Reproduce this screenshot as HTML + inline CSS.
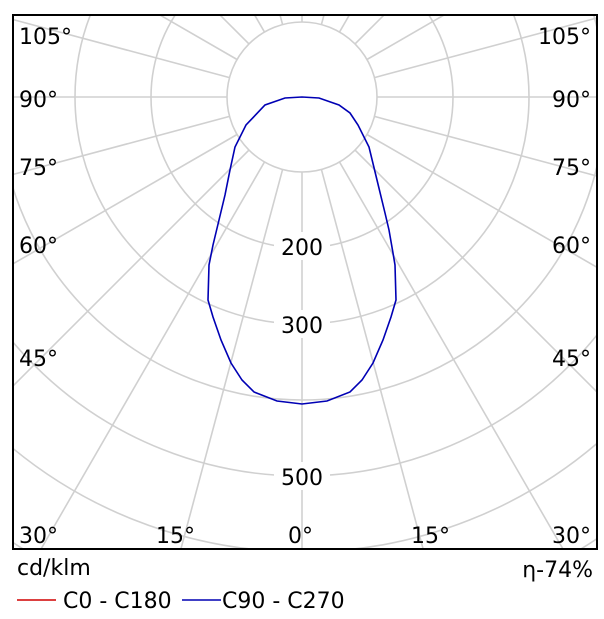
<!DOCTYPE html>
<html><head><meta charset="utf-8"><style>
html,body{margin:0;padding:0;background:#fff;overflow:hidden;width:604px;height:619px;}
svg{display:block;}
text{font-family:"DejaVu Sans","Liberation Sans",sans-serif;font-size:22px;fill:#000;}
</style></head><body>
<svg width="604" height="619" viewBox="0 0 604 619" xmlns="http://www.w3.org/2000/svg">
<defs><clipPath id="c"><rect x="13" y="15" width="584" height="534"/></clipPath></defs>
<g clip-path="url(#c)" stroke="#d0d0d0" stroke-width="1.6" fill="none">
<circle cx="302" cy="97" r="75"/>
<circle cx="302" cy="97" r="151"/>
<circle cx="302" cy="97" r="227"/>
<circle cx="302" cy="97" r="303"/>
<circle cx="302" cy="97" r="379"/>
<circle cx="302" cy="97" r="455"/>
<circle cx="302" cy="97" r="531"/>
<line x1="302" y1="172" x2="302" y2="900"/>
<line x1="302" y1="172" x2="302" y2="900" transform="rotate(15 302 97)"/>
<line x1="302" y1="172" x2="302" y2="900" transform="rotate(30 302 97)"/>
<line x1="302" y1="172" x2="302" y2="900" transform="rotate(45 302 97)"/>
<line x1="302" y1="172" x2="302" y2="900" transform="rotate(60 302 97)"/>
<line x1="302" y1="172" x2="302" y2="900" transform="rotate(75 302 97)"/>
<line x1="302" y1="172" x2="302" y2="900" transform="rotate(90 302 97)"/>
<line x1="302" y1="172" x2="302" y2="900" transform="rotate(105 302 97)"/>
<line x1="302" y1="172" x2="302" y2="900" transform="rotate(120 302 97)"/>
<line x1="302" y1="172" x2="302" y2="900" transform="rotate(135 302 97)"/>
<line x1="302" y1="172" x2="302" y2="900" transform="rotate(150 302 97)"/>
<line x1="302" y1="172" x2="302" y2="900" transform="rotate(165 302 97)"/>
<line x1="302" y1="172" x2="302" y2="900" transform="rotate(180 302 97)"/>
<line x1="302" y1="172" x2="302" y2="900" transform="rotate(-15 302 97)"/>
<line x1="302" y1="172" x2="302" y2="900" transform="rotate(-30 302 97)"/>
<line x1="302" y1="172" x2="302" y2="900" transform="rotate(-45 302 97)"/>
<line x1="302" y1="172" x2="302" y2="900" transform="rotate(-60 302 97)"/>
<line x1="302" y1="172" x2="302" y2="900" transform="rotate(-75 302 97)"/>
<line x1="302" y1="172" x2="302" y2="900" transform="rotate(-90 302 97)"/>
<line x1="302" y1="172" x2="302" y2="900" transform="rotate(-105 302 97)"/>
<line x1="302" y1="172" x2="302" y2="900" transform="rotate(-120 302 97)"/>
<line x1="302" y1="172" x2="302" y2="900" transform="rotate(-135 302 97)"/>
<line x1="302" y1="172" x2="302" y2="900" transform="rotate(-150 302 97)"/>
<line x1="302" y1="172" x2="302" y2="900" transform="rotate(-165 302 97)"/>
</g>
<g fill="#fff">
<rect x="274" y="232" width="56" height="28"/>
<rect x="274" y="310" width="56" height="28"/>
<rect x="274" y="462" width="56" height="28"/>
</g>
<path fill="none" stroke="#0000b4" stroke-width="1.6" d="M302,97 L285,98 L265,105 L246,125 L235,147 L230,170 L225,195 L219,220 L213,245 L209,265 L208,300 L213,317 L221,340 L231,363 L242,380 L254,392 L277,401 L302,404 L327,401 L350,392 L362,380 L373,363 L383,340 L391,317 L396,300 L395,265 L393,253 L389,230 L385,213 L377,180 L369,147 L358,125 L350,113 L339,105 L319,98 Z"/>
<rect x="13" y="15" width="584" height="534" fill="none" stroke="#000" stroke-width="2"/>
<text x="302" y="255" text-anchor="middle">200</text>
<text x="302" y="333" text-anchor="middle">300</text>
<text x="302" y="485" text-anchor="middle">500</text>
<text x="19" y="44">105°</text>
<text x="19" y="107">90°</text>
<text x="19" y="175">75°</text>
<text x="19" y="253">60°</text>
<text x="19" y="366">45°</text>
<text x="19" y="543">30°</text>
<text x="156" y="543">15°</text>
<text x="288" y="543">0°</text>
<text x="411" y="543">15°</text>
<text x="591" y="44" text-anchor="end">105°</text>
<text x="591" y="107" text-anchor="end">90°</text>
<text x="591" y="175" text-anchor="end">75°</text>
<text x="591" y="253" text-anchor="end">60°</text>
<text x="591" y="366" text-anchor="end">45°</text>
<text x="591" y="543" text-anchor="end">30°</text>
<text x="17" y="575">cd/klm</text>
<text x="593" y="577" text-anchor="end">η-74%</text>
<line x1="17" y1="600" x2="56" y2="600" stroke="#d00000" stroke-width="1.6"/>
<text x="63" y="608">C0 - C180</text>
<line x1="182" y1="600" x2="221" y2="600" stroke="#0000b4" stroke-width="1.6"/>
<text x="222" y="608">C90 - C270</text>
</svg>
</body></html>
